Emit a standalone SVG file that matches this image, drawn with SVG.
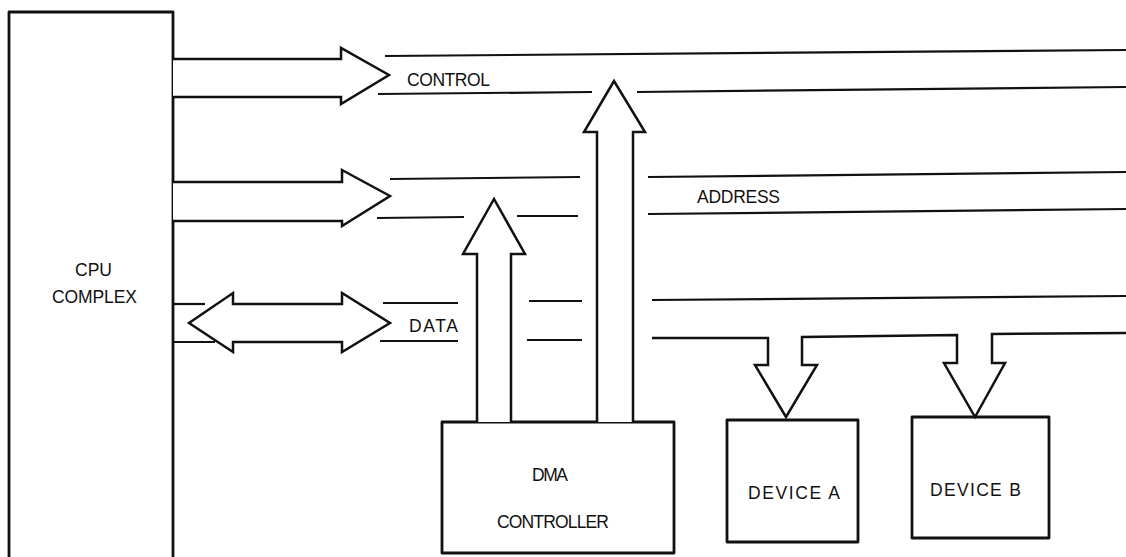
<svg xmlns="http://www.w3.org/2000/svg" width="1126" height="557" viewBox="0 0 1126 557">
  <style>
    .box { fill: #fff; stroke: #111; stroke-width: 2.8; stroke-linejoin: round; }
    .bus { fill: none; stroke: #111; stroke-width: 2.2; stroke-linecap: butt; }
    .arrow { fill: #fff; stroke: #111; stroke-width: 2.5; stroke-linejoin: miter; }
    .label { font-family: "Liberation Sans", Arial, Helvetica, sans-serif; font-size: 17.5px; fill: #111; }
  </style>
  <rect width="1126" height="557" fill="#fff"/>

  <!-- Nodes -->
  <g id="cpu-complex">
    <path class="box" d="M9,566 V12 H173 V566"/>
    <text class="label" x="75" y="276" textLength="37" lengthAdjust="spacing">CPU</text>
    <text class="label" x="52" y="303" textLength="85" lengthAdjust="spacing">COMPLEX</text>
  </g>

  <g id="dma-controller">
    <rect class="box" x="442" y="422" width="232" height="131"/>
    <text class="label" x="532" y="481" textLength="36" lengthAdjust="spacing">DMA</text>
    <text class="label" x="497" y="528" textLength="112" lengthAdjust="spacing">CONTROLLER</text>
  </g>

  <g id="device-a">
    <rect class="box" x="727" y="420" width="131" height="122"/>
    <text class="label" x="748" y="499" textLength="92" lengthAdjust="spacing">DEVICE A</text>
  </g>

  <g id="device-b">
    <rect class="box" x="912" y="417" width="137" height="121"/>
    <text class="label" x="930" y="496" textLength="91" lengthAdjust="spacing">DEVICE B</text>
  </g>

  <!-- Connectors: bus lines, bus arrows and bus labels -->
  <g id="connectors">
    <!-- CONTROL bus -->
    <line class="bus" x1="385" y1="56" x2="1126" y2="50"/>
    <line class="bus" x1="378" y1="94" x2="592" y2="92"/>
    <line class="bus" x1="637" y1="92" x2="1126" y2="87"/>

    <!-- ADDRESS bus -->
    <line class="bus" x1="390" y1="179" x2="580" y2="177"/>
    <line class="bus" x1="648" y1="177" x2="1126" y2="172"/>
    <line class="bus" x1="377" y1="218" x2="464" y2="217"/>
    <line class="bus" x1="517" y1="216" x2="578" y2="216"/>
    <line class="bus" x1="648" y1="214" x2="1126" y2="209"/>

    <!-- DATA bus -->
    <line class="bus" x1="383" y1="303" x2="458" y2="303"/>
    <line class="bus" x1="529" y1="301" x2="582" y2="301"/>
    <line class="bus" x1="652" y1="300" x2="1126" y2="296"/>
    <line class="bus" x1="380" y1="341" x2="458" y2="341"/>
    <line class="bus" x1="527" y1="340" x2="582" y2="340"/>

    <!-- DATA stubs leaving the CPU -->
    <line class="bus" x1="173" y1="304" x2="205" y2="304"/>
    <line class="bus" x1="173" y1="342" x2="215" y2="342"/>

    <!-- CPU to CONTROL bus -->
    <path class="arrow" d="M173,59 H341 V48 L389,75 L341,104 V97 H173"/>
    <!-- CPU to ADDRESS bus -->
    <path class="arrow" d="M173,182 H342 V170 L390,196 L342,226 V221 H173"/>
    <!-- CPU to/from DATA bus -->
    <path class="arrow" d="M189,323 L233,293 V304 H342 V293 L390,323 L342,352 V342 H233 V352 Z"/>

    <!-- DMA controller to ADDRESS bus -->
    <path class="arrow" d="M477,422 V254 H463 L494,199 L525,254 H511 V422"/>
    <!-- DMA controller to CONTROL bus -->
    <path class="arrow" d="M597,422 V132 H584 L614,81 L645,132 H633 V422"/>

    <!-- DATA bus taps into Device A and Device B -->
    <path class="arrow" d="M652,338 H768 V365 H755 L786,417 L817,365 H802 V337 L957,335 V363 H944 L975,417 L1005,363 H992 V334 L1126,333"/>

    <text class="label" x="407" y="86" textLength="83" lengthAdjust="spacing">CONTROL</text>
    <text class="label" x="697" y="203" textLength="83" lengthAdjust="spacing">ADDRESS</text>
    <text class="label" x="409" y="332" textLength="49" lengthAdjust="spacing">DATA</text>
  </g>
</svg>
